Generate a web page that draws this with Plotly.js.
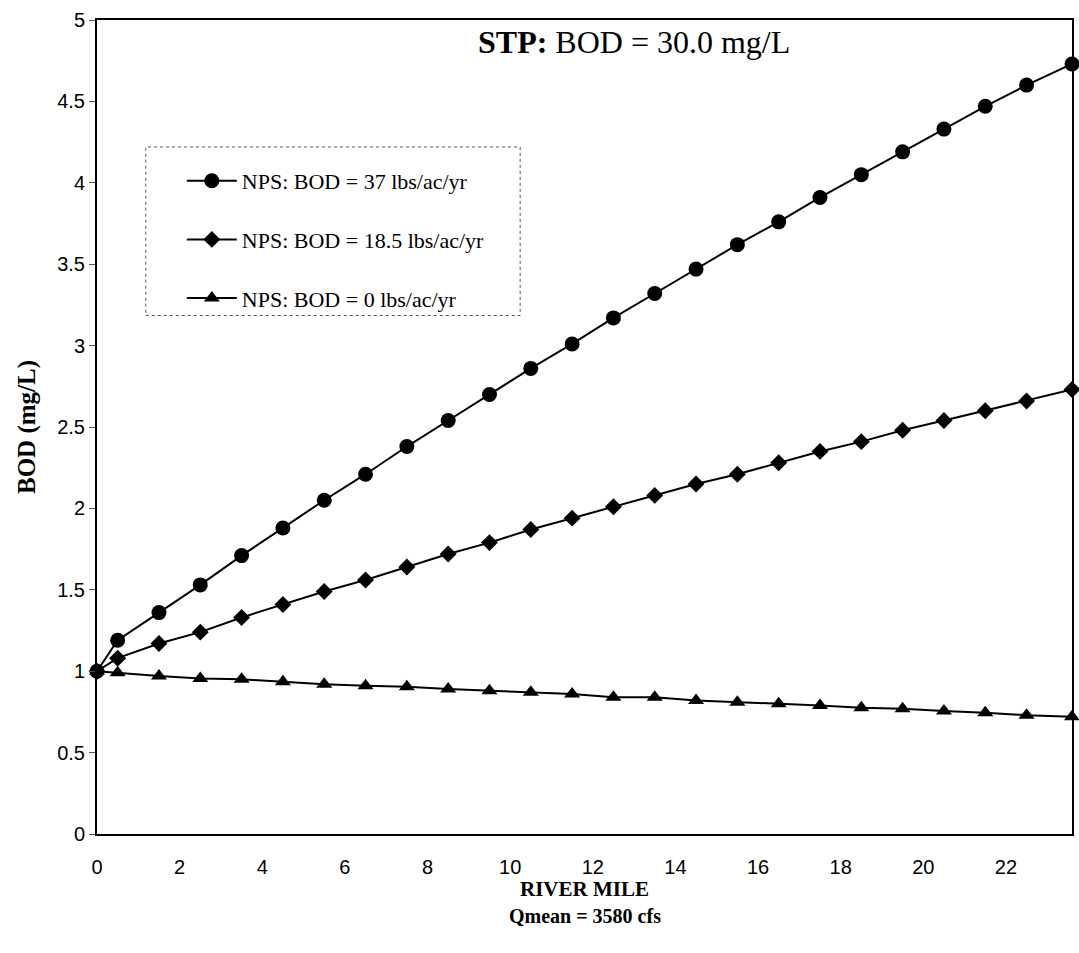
<!DOCTYPE html>
<html>
<head>
<meta charset="utf-8">
<script src="https://cdn.plot.ly/plotly-3.0.1.min.js"></script>
<style>html,body{margin:0;padding:0;background:#fff;}#chart{width:1079px;height:953px;}</style>
</head>
<body>
<div id="chart"></div>
<script>
// River mile positions
var riverMile = [0, 0.5, 1.5, 2.5, 3.5, 4.5, 5.5, 6.5, 7.5, 8.5, 9.5, 10.5, 11.5, 12.5, 13.5, 14.5, 15.5, 16.5, 17.5, 18.5, 19.5, 20.5, 21.5, 22.5, 23.6];
// BOD (mg/L) for each NPS loading
var bod37 = [1.00, 1.19, 1.36, 1.53, 1.71, 1.88, 2.05, 2.21, 2.38, 2.54, 2.70, 2.86, 3.01, 3.17, 3.32, 3.47, 3.62, 3.76, 3.91, 4.05, 4.19, 4.33, 4.47, 4.60, 4.73];
var bod18_5 = [1.00, 1.08, 1.17, 1.24, 1.33, 1.41, 1.49, 1.56, 1.64, 1.72, 1.79, 1.87, 1.94, 2.01, 2.08, 2.15, 2.21, 2.28, 2.35, 2.41, 2.48, 2.54, 2.60, 2.66, 2.73];
var bod0 = [1.00, 0.99, 0.97, 0.955, 0.95, 0.935, 0.92, 0.91, 0.905, 0.89, 0.88, 0.87, 0.86, 0.84, 0.84, 0.82, 0.81, 0.80, 0.79, 0.775, 0.77, 0.755, 0.745, 0.73, 0.72];
var seriesNames = ["NPS: BOD = 37 lbs/ac/yr", "NPS: BOD = 18.5 lbs/ac/yr", "NPS: BOD = 0 lbs/ac/yr"];
var xTicks = [0, 2, 4, 6, 8, 10, 12, 14, 16, 18, 20, 22];
var yTicks = [0, 0.5, 1, 1.5, 2, 2.5, 3, 3.5, 4, 4.5, 5];
var yTickText = ["0", "0.5", "1", "1.5", "2", "2.5", "3", "3.5", "4", "4.5", "5"];

var serif = "Liberation Serif, Times New Roman, serif";
var sans = "Liberation Sans, Arial, sans-serif";

function mk(y, name, symbol, size, grp) {
  return {
    x: riverMile, y: y, name: name, type: "scatter", mode: "lines+markers",
    legendgroup: grp,
    line: {color: "#000", width: 2},
    marker: {symbol: symbol, size: size, color: "#000", line: {width: 0}},
    cliponaxis: false
  };
}
var traces = [
  mk(bod37, seriesNames[0], "circle", 15, "a"),
  mk(bod18_5, seriesNames[1], "diamond", 13, "b"),
  mk(bod0, seriesNames[2], "triangle-up", 14, "c")
];

var layout = {
  width: 1079, height: 953,
  margin: {l: 97, r: 7, t: 20, b: 119},
  paper_bgcolor: "#fff", plot_bgcolor: "#fff",
  showlegend: true,
  legend: {
    x: 0.087, y: 0.828, xanchor: "left", yanchor: "top",
    bgcolor: "rgba(0,0,0,0)", borderwidth: 0,
    font: {family: serif, size: 22, color: "#000"},
    tracegroupgap: 27, itemwidth: 50
  },
  xaxis: {
    range: [0, 23.6], tickvals: xTicks, ticktext: xTicks.map(String),
    showgrid: false, zeroline: false, showline: true, linecolor: "#000", linewidth: 2, mirror: true,
    ticks: "", ticklabelstandoff: 14,
    tickfont: {family: sans, size: 20, color: "#000"}
  },
  yaxis: {
    range: [0, 5], tickvals: yTicks, ticktext: yTickText,
    showgrid: false, zeroline: false, showline: true, linecolor: "#000", linewidth: 2, mirror: true,
    ticks: "outside", ticklen: 6, tickwidth: 1, tickcolor: "#555",
    tickfont: {family: sans, size: 20, color: "#000"},
    title: {text: "<b>BOD (mg/L)</b>", font: {family: serif, size: 25, color: "#000"}, standoff: 14}
  },
  shapes: [{
    type: "rect", xref: "paper", yref: "paper",
    x0: 0.050, x1: 0.434, y0: 0.637, y1: 0.844,
    line: {color: "#555", width: 1, dash: "dot"}, fillcolor: "rgba(0,0,0,0)", layer: "below"
  }],
  annotations: [
    {xref: "paper", yref: "paper", x: 0.551, y: 0.973, xanchor: "center", yanchor: "middle",
     text: "<b>STP:</b> BOD = 30.0 mg/L", showarrow: false,
     font: {family: serif, size: 32, color: "#000"}},
    {xref: "paper", yref: "paper", x: 0.5, y: -0.0676, xanchor: "center", yanchor: "middle",
     text: "<b>RIVER MILE</b>", showarrow: false,
     font: {family: serif, size: 21, color: "#000"}},
    {xref: "paper", yref: "paper", x: 0.5, y: -0.1007, xanchor: "center", yanchor: "middle",
     text: "<b>Qmean = 3580 cfs</b>", showarrow: false,
     font: {family: serif, size: 20, color: "#000"}}
  ]
};

Plotly.newPlot("chart", traces, layout, {displayModeBar: false, staticPlot: true});
</script>
</body>
</html>
